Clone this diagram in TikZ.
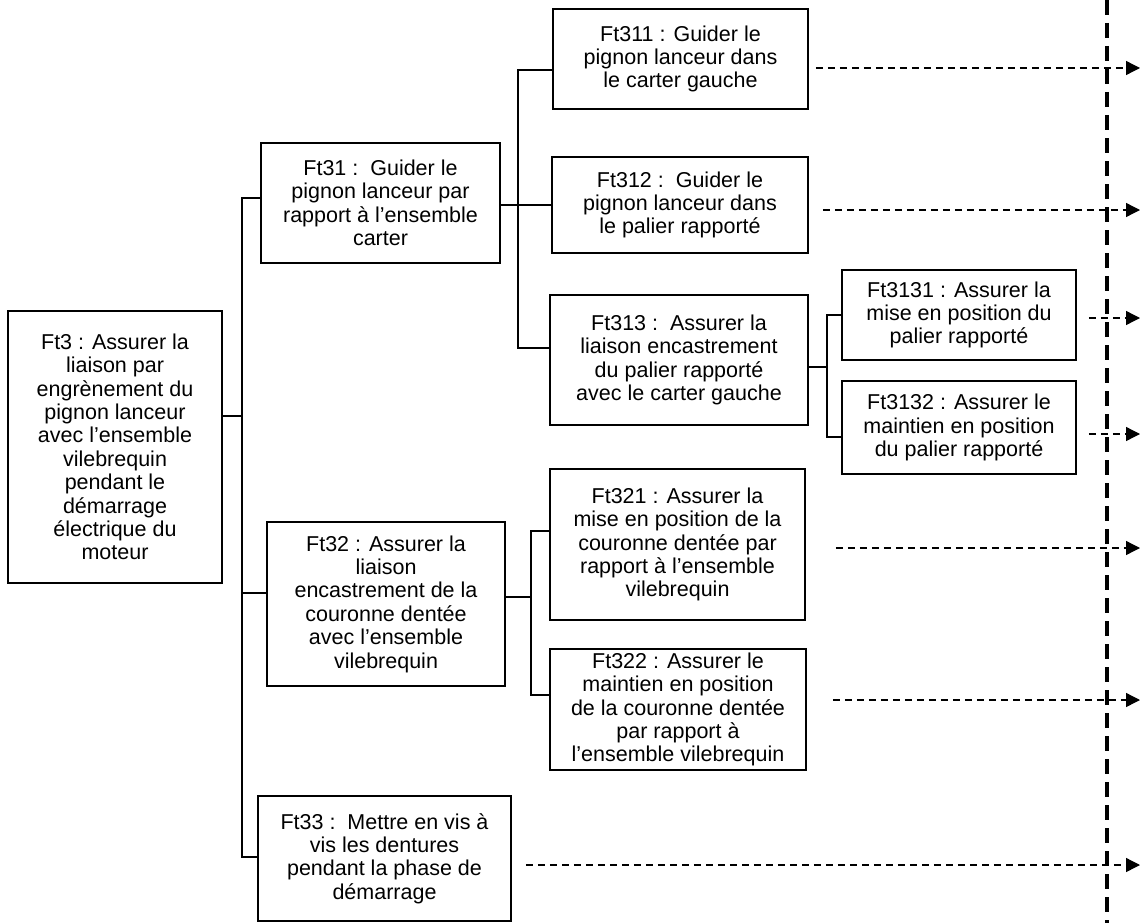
\documentclass[tikz,border=0pt]{standalone}
\usepackage{fontspec}
\setmainfont{Liberation Sans}
\usetikzlibrary{arrows.meta}

\begin{document}
\begin{tikzpicture}[x=1pt,y=-1pt]
\tikzstyle{every path}=[line width=1.3pt]
\edef\sizefont{21.5}
\tikzstyle{ftbox}=[draw,line width=1.6pt,align=center,inner sep=2pt,
font=\fontsize{\sizefont}{23.4}\selectfont]
\tikzstyle{flow}=[dash pattern=on 7pt off 5pt,-{Triangle[length=14pt,width=14pt]}]
\tikzstyle{frontier}=[line width=3.5pt,dash pattern=on 15pt off 8pt]
\useasboundingbox (0,0) rectangle (1142,923);

% boxes
\node [ftbox,minimum width=214pt,minimum height=272pt] (ft3) at (115,447)
 {Ft3 : Assurer la\\ liaison par\\ engrènement du\\ pignon lanceur\\ avec l’ensemble\\ vilebrequin\\ pendant le\\ démarrage\\ électrique du\\ moteur};
\node [ftbox,minimum width=239pt,minimum height=120pt] (ft31) at (380.5,203)
 {Ft31 :\ \ Guider le\\ pignon lanceur par\\ rapport à l’ensemble\\ carter};
\node [ftbox,minimum width=238pt,minimum height=164pt] (ft32) at (386,604)
 {Ft32 : Assurer la\\ liaison\\ encastrement de la\\ couronne dentée\\ avec l’ensemble\\ vilebrequin};
\node [ftbox,minimum width=253pt,minimum height=125pt] (ft33) at (384.5,858.5)
 {Ft33 :\ \ Mettre en vis à\\ vis les dentures\\ pendant la phase de\\ démarrage};
\node [ftbox,minimum width=255pt,minimum height=100pt] (ft311) at (680.5,59)
 {Ft311 : Guider le\\ pignon lanceur dans\\ le carter gauche};
\node [ftbox,minimum width=256pt,minimum height=96pt] (ft312) at (680,205)
 {Ft312 :\ \ Guider le\\ pignon lanceur dans\\ le palier rapporté};
\node [ftbox,minimum width=258pt,minimum height=130pt] (ft313) at (679,360)
 {Ft313 :\ \ Assurer la\\ liaison encastrement\\ du palier rapporté\\ avec le carter gauche};
\node [ftbox,minimum width=234pt,minimum height=90pt] (ft3131) at (959,315)
 {Ft3131 : Assurer la\\ mise en position du\\ palier rapporté};
\node [ftbox,minimum width=234pt,minimum height=93pt] (ft3132) at (959,427.5)
 {Ft3132 : Assurer le\\ maintien en position\\ du palier rapporté};
\node [ftbox,minimum width=255pt,minimum height=151pt] (ft321) at (677.5,544.5)
 {Ft321 : Assurer la\\ mise en position de la\\ couronne dentée par\\ rapport à l’ensemble\\ vilebrequin};
\node [ftbox,minimum width=256pt,minimum height=121pt] (ft322) at (678,709.5)
 {Ft322 : Assurer le\\ maintien en position\\ de la couronne dentée\\ par rapport à\\ l’ensemble vilebrequin};

% tree Ft3
\coordinate (k3) at (242,416);
\coordinate (j31) at (242,198);
\coordinate (j32) at (242,593);
\coordinate (j33) at (242,857);
\draw (ft3.east |- k3) -- (k3);
\draw (j31 -| ft31.west) -- (j31) -- (j33) -- (j33 -| ft33.west);
\draw (j32) -- (j32 -| ft32.west);

% tree Ft31
\coordinate (j311) at (518,70);
\coordinate (j312) at (518,205);
\coordinate (j313) at (518,348);
\draw (ft31.east |- j312) -- (j312 -| ft312.west);
\draw (j311 -| ft311.west) -- (j311) -- (j313) -- (j313 -| ft313.west);

% tree Ft313
\coordinate (k313) at (827,367);
\coordinate (j3131) at (827,315);
\coordinate (j3132) at (827,437);
\draw (ft313.east |- k313) -- (k313);
\draw (j3131 -| ft3131.west) -- (j3131) -- (j3132) -- (j3132 -| ft3132.west);

% tree Ft32
\coordinate (k32) at (531,597);
\coordinate (j321) at (531,531);
\coordinate (j322) at (531,695);
\draw (ft32.east |- k32) -- (k32);
\draw (j321 -| ft321.west) -- (j321) -- (j322) -- (j322 -| ft322.west);

% frontier
\coordinate (ltop) at (1107,0);
\coordinate (lbot) at (1107,923);
\draw [frontier] (ltop) -- (lbot);

% outgoing flows
\coordinate (o311) at (1140,68);
\coordinate (o312) at (1140,210);
\coordinate (o3131) at (1140,318);
\coordinate (o3132) at (1140,434);
\coordinate (o321) at (1140,548);
\coordinate (o322) at (1140,700);
\coordinate (o33) at (1140,865);
\draw [flow] ([xshift=7pt]ft311.east |- o311) -- (o311);
\draw [flow] ([xshift=14pt]ft312.east |- o312) -- (o312);
\draw [flow] ([xshift=12pt]ft3131.east |- o3131) -- (o3131);
\draw [flow] ([xshift=12pt]ft3132.east |- o3132) -- (o3132);
\draw [flow] ([xshift=30pt]ft321.east |- o321) -- (o321);
\draw [flow] ([xshift=26pt]ft322.east |- o322) -- (o322);
\draw [flow] ([xshift=14pt]ft33.east |- o33) -- (o33);
\end{tikzpicture}
\end{document}
